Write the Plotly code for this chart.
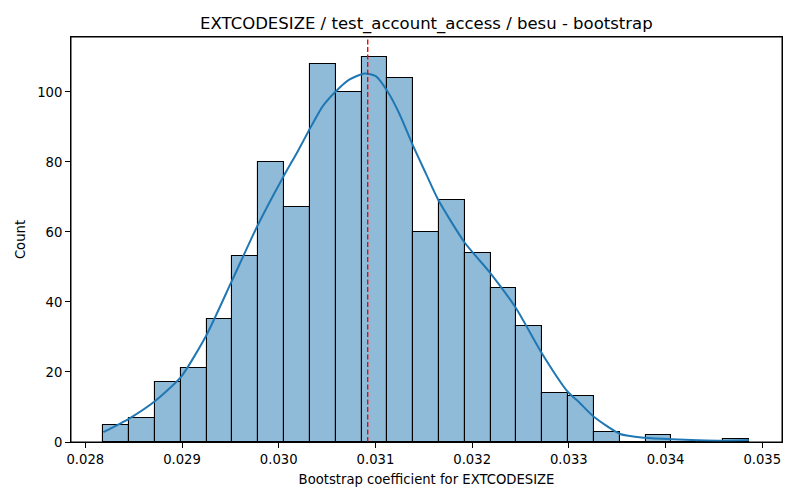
import plotly.graph_objects as go

# ---- data ----
bin_start = 0.028186
bin_width = 0.000267
counts = [5, 7, 17, 21, 35, 53, 80, 67, 108, 100, 110, 104, 60, 69, 54, 44, 33, 14, 13, 3, 0, 2, 0, 0, 1]

kde_x = [0.028186, 0.028454, 0.028722, 0.028990, 0.029252, 0.029520, 0.029784, 0.030052,
         0.030196, 0.030316, 0.030454, 0.030592, 0.030729, 0.030887, 0.031004, 0.031124,
         0.031244, 0.031399, 0.031520, 0.031649, 0.031922, 0.032190, 0.032454, 0.032722,
         0.032990, 0.033100, 0.033258, 0.033530, 0.033788, 0.034062, 0.034337, 0.034577,
         0.034861]
kde_y = [2.8, 6.7, 11.7, 18.6, 30.5, 46.3, 62.0, 76.0,
         83.0, 89.2, 95.9, 100.2, 103.5, 105.3, 104.5, 100.2,
         94.0, 84.0, 76.8, 69.2, 57.0, 48.2, 38.2, 25.3,
         14.3, 11.5, 7.2, 2.3, 1.2, 0.76, 0.5, 0.37,
         0.57]

mean_value = 0.03092
x_ticks = [0.028, 0.029, 0.030, 0.031, 0.032, 0.033, 0.034, 0.035]
y_ticks = [0, 20, 40, 60, 80, 100]

title = "EXTCODESIZE / test_account_access / besu - bootstrap"
x_label = "Bootstrap coefficient for EXTCODESIZE"
y_label = "Count"

centers = [bin_start + bin_width * (i + 0.5) for i in range(len(counts))]

fig = go.Figure()
fig.add_trace(go.Bar(
    x=centers, y=counts, width=[bin_width] * len(counts),
    marker=dict(color="rgba(31,119,180,0.5)", line=dict(color="black", width=1.1)),
    hoverinfo="skip", showlegend=False,
))
fig.add_trace(go.Scatter(
    x=kde_x, y=kde_y, mode="lines",
    line=dict(color="#1f77b4", width=2, shape="spline", smoothing=0.6),
    showlegend=False,
))
fig.add_shape(type="line", xref="x", yref="paper", x0=mean_value, x1=mean_value, y0=0, y1=1,
              line=dict(color="#ff0000", width=1.4, dash="5px,2.5px"), layer="above")
# axes frame
fig.add_shape(type="rect", xref="paper", yref="paper", x0=0, x1=1, y0=0, y1=1,
              line=dict(color="black", width=1), fillcolor="rgba(0,0,0,0)", layer="above")

font = "DejaVu Sans"
fig.update_layout(
    width=800, height=500,
    margin=dict(l=71, r=18, t=37, b=58, autoexpand=False),
    paper_bgcolor="white", plot_bgcolor="white",
    bargap=0,
    font=dict(family=font, size=13, color="black"),
    title=dict(text=title, x=0.533, xanchor="center", xref="container",
               y=1 - 23 / 500, yref="container", yanchor="middle",
               font=dict(family=font, size=16.5, color="black")),
)
fig.update_xaxes(
    range=[0.027852, 0.035204], tickvals=x_ticks, tickformat=".3f",
    ticks="outside", ticklen=5, tickwidth=1, tickcolor="black",
    showline=True, linecolor="black", linewidth=1, mirror=True,
    showgrid=False, zeroline=False,
    title=dict(text=x_label, font=dict(family=font, size=13.2), standoff=8),
    tickfont=dict(family=font, size=13.2),
)
fig.update_yaxes(
    range=[0, 115.7], tickvals=y_ticks,
    ticks="outside", ticklen=5, tickwidth=1, tickcolor="black",
    showline=True, linecolor="black", linewidth=1, mirror=True,
    showgrid=False, zeroline=False,
    title=dict(text=y_label, font=dict(family=font, size=13.2), standoff=8),
    tickfont=dict(family=font, size=13.2),
)

fig.write_html("out.html", config={"displayModeBar": False},
               post_script="document.body.style.margin='0';document.body.style.padding='0';")
